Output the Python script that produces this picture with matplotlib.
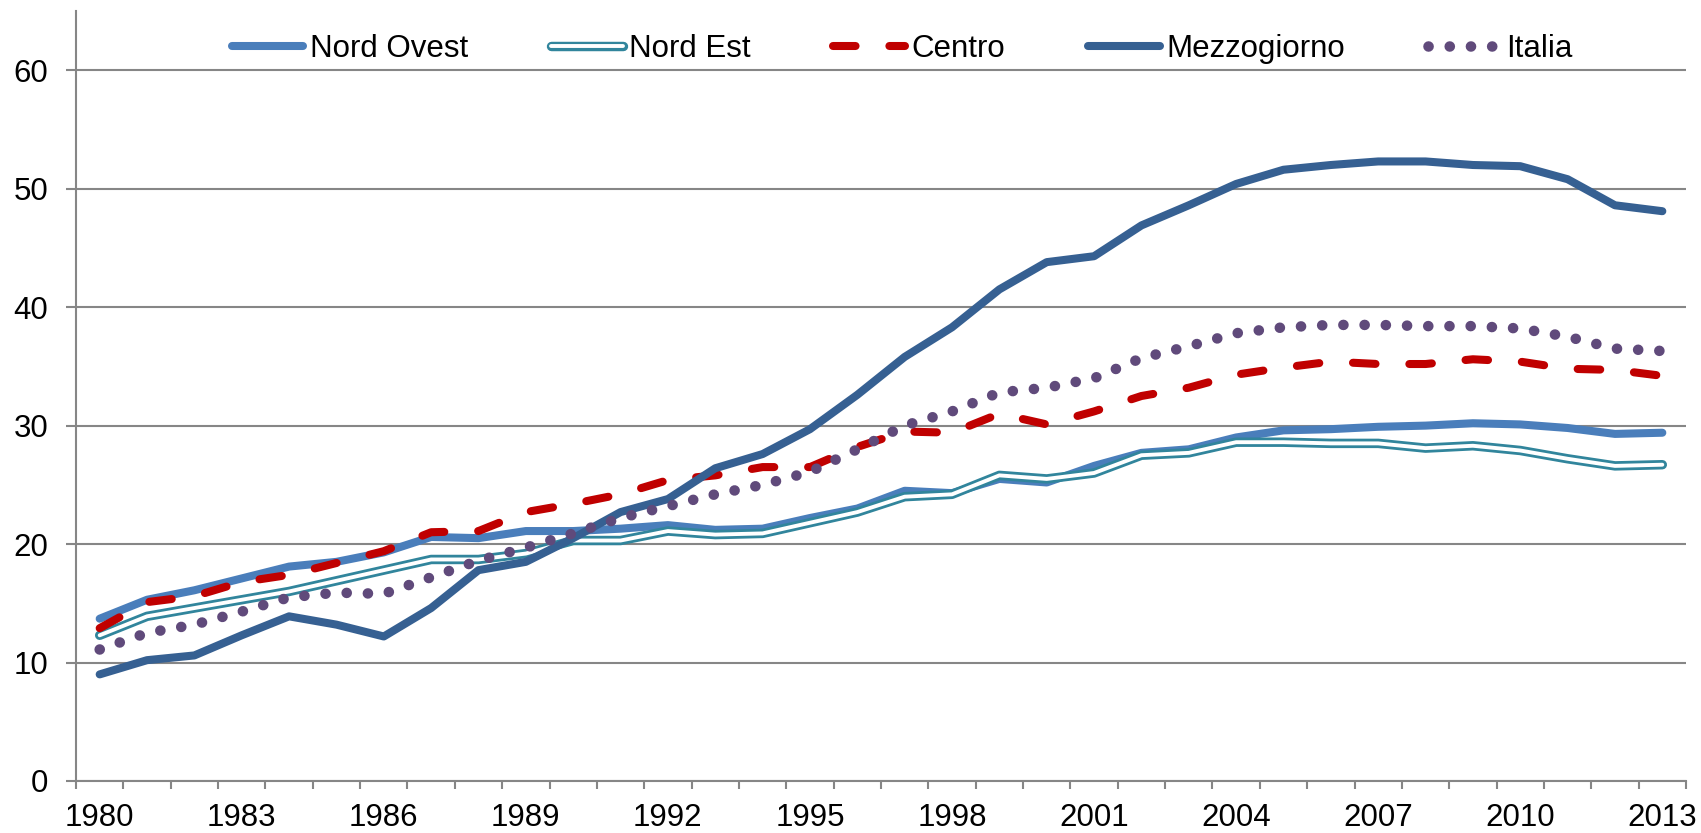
import numpy as np
import matplotlib
matplotlib.use("Agg")
from matplotlib import pyplot as plt

plt.rcParams['font.family'] = ['Liberation Sans', 'DejaVu Sans']

years = list(range(1980, 2014))

nord_ovest = [13.7, 15.3, 16.1, 17.1, 18.1, 18.5, 19.3, 20.6, 20.5, 21.1,
              21.1, 21.3, 21.6, 21.2, 21.3, 22.2, 23.0, 24.5, 24.3, 25.5,
              25.2, 26.6, 27.7, 28.0, 29.0, 29.6, 29.7, 29.9, 30.0, 30.2,
              30.1, 29.8, 29.3, 29.4]
nord_est = [12.3, 13.9, 14.6, 15.3, 16.0, 16.9, 17.8, 18.7, 18.7, 19.2,
            20.3, 20.3, 21.1, 20.8, 20.9, 21.8, 22.7, 24.0, 24.2, 25.8,
            25.5, 26.0, 27.5, 27.7, 28.6, 28.6, 28.5, 28.5, 28.1, 28.3,
            27.9, 27.2, 26.6, 26.7]
centro = [12.9, 15.1, 15.6, 16.8, 17.4, 18.4, 19.4, 21.0, 21.1, 22.7,
          23.4, 24.2, 25.4, 25.8, 26.5, 26.5, 28.2, 29.5, 29.4, 31.0,
          30.1, 31.2, 32.5, 33.2, 34.3, 34.9, 35.4, 35.2, 35.2, 35.6,
          35.4, 34.8, 34.7, 34.2]
mezzogiorno = [9.0, 10.2, 10.6, 12.3, 13.9, 13.2, 12.2, 14.6, 17.8, 18.5,
               20.5, 22.7, 23.8, 26.4, 27.6, 29.7, 32.6, 35.8, 38.3, 41.5,
               43.8, 44.3, 46.9, 48.6, 50.4, 51.6, 52.0, 52.3, 52.3, 52.0,
               51.9, 50.8, 48.6, 48.1]
italia = [11.1, 12.5, 13.2, 14.3, 15.5, 15.9, 15.8, 17.2, 18.6, 19.7,
          20.9, 22.2, 23.2, 24.2, 25.0, 26.1, 28.0, 30.0, 31.2, 32.8,
          33.2, 34.0, 35.7, 36.7, 37.8, 38.3, 38.5, 38.5, 38.4, 38.4,
          38.2, 37.5, 36.5, 36.3]

grey = '#868686'
fs = 22.5

fig = plt.figure(figsize=(17.01, 8.33), dpi=100)
ax = fig.add_axes([76/1701, 1 - 781/833, (1686 - 76)/1701, (781 - 11)/833])

x = np.arange(len(years))

l1, = ax.plot(x, nord_ovest, color='#4A7EBB', lw=5.8, solid_capstyle='round',
              solid_joinstyle='round')
l2a, = ax.plot(x, nord_est, color='#31859C', lw=6.8, solid_capstyle='round',
               solid_joinstyle='round')
l2b, = ax.plot(x, nord_est, color='white', lw=2.8, solid_capstyle='round',
               solid_joinstyle='round')
l3, = ax.plot(x, centro, color='#C00000', lw=5.8, linestyle=(0, (2.8, 4.2)),
              dash_capstyle='round')
l4, = ax.plot(x, mezzogiorno, color='#366092', lw=5.8, solid_capstyle='round',
              solid_joinstyle='round')
l5, = ax.plot(x, italia, color='#604A7B', lw=7.6, linestyle=(0, (0.01, 2.0)),
              dash_capstyle='round')

ax.set_xlim(-0.5, len(years) - 0.5)
ax.set_ylim(0, 65)
ax.set_yticks(range(0, 61, 10))
ax.set_xticks(x[::3])
ax.set_xticklabels([str(y) for y in years[::3]])
ax.set_xticks(np.arange(-0.5, len(years), 1), minor=True)

ax.yaxis.grid(True, color=grey, lw=1.5)
ax.set_axisbelow(True)
for s in ['top', 'right']:
    ax.spines[s].set_visible(False)
for s in ['left', 'bottom']:
    ax.spines[s].set_color(grey)
    ax.spines[s].set_linewidth(1.5)

ax.tick_params(axis='x', which='major', length=0, pad=16, labelsize=fs)
ax.tick_params(axis='x', which='minor', length=6, width=1.5, color=grey)
ax.tick_params(axis='y', length=7, width=1.5, color=grey, pad=13, labelsize=fs)

ax.legend([l1, (l2a, l2b), l3, l4, l5],
          ['Nord Ovest', 'Nord Est', 'Centro', 'Mezzogiorno', 'Italia'],
          ncol=5, frameon=False, fontsize=fs, loc='center',
          bbox_to_anchor=(0.513, 1 - 38/770), handlelength=2.3,
          handletextpad=0.2, columnspacing=2.65)

fig.savefig('out.png', dpi=100)
